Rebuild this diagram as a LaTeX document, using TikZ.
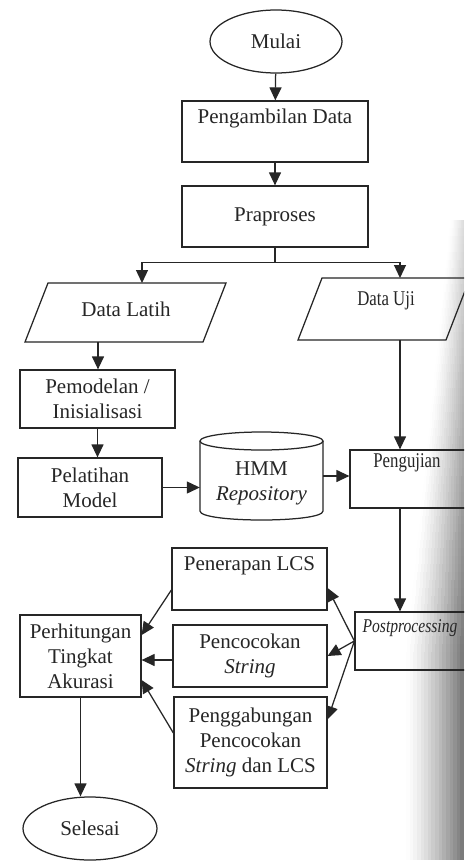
\documentclass[tikz,border=0pt]{standalone}
\usepackage{fontspec}
\setmainfont{Liberation Serif}
\newfontfamily\narrowserif[FakeStretch=0.8]{Liberation Serif}
\usetikzlibrary{shapes.geometric,arrows.meta,calc}

\begin{document}
\begin{tikzpicture}[x=1pt,y=-1pt,
  ink/.style={draw=black!85, line width=1.25pt},
  txt/.style={font=\fontsize{21}{25}\selectfont, text=black!85, align=center},
  narrow/.style={font=\narrowserif\fontsize{21}{24}\selectfont, text=black!85},
  box/.style={ink, rectangle, inner sep=0pt},
  oval/.style={ink, ellipse, inner sep=0pt},
  flow/.style={ink, -{Triangle[length=13pt,width=12pt]}},
  link/.style={ink}]

\useasboundingbox (0,0) rectangle (464,862);
\clip (0,0) rectangle (464,862);
\fill[white] (0,0) rectangle (464,862);

% soft shadow along the right page edge: a grid of small grey cells,
% darker towards the edge and further down the page
\foreach \y in {220,228,...,856} {
  \pgfmathsetmacro{\t}{min(1,(\y-220)/430)}
  \pgfmathsetmacro{\xs}{450-44*\t}
  \pgfmathsetmacro{\w}{(464-\xs)/16}
  \pgfmathsetmacro{\kmax}{14+40*\t}
  \foreach \i in {0,...,15} {
    \pgfmathsetmacro{\xa}{\xs+\i*\w}
    \pgfmathsetmacro{\k}{\kmax*((\i+0.5)/16)^1.3}
    \fill[black!\k] (\xa,\y) rectangle (\xa+\w+0.4,\y+8.4);
  }
}

% terminals
\node[oval, minimum width=132pt, minimum height=63pt, txt] (mulai) at (276,41.5) {Mulai};
\node[oval, minimum width=134pt, minimum height=63pt, txt] (sel) at (90,828.5) {Selesai};

% upper chain
\node[box, minimum width=186pt, minimum height=61pt] (ambil) at (275,131.5) {};
\node[txt] (t-ambil) at (275,118) {Pengambilan Data};
\node[box, minimum width=186pt, minimum height=61pt, txt] (prap) at (275,216.5) {Praproses};

% input data: two parallelograms with their labels
\draw[ink] (48,283) -- (226,283) -- (203,342) -- (25,342) -- cycle;
\node[txt] (latih) at (126,309) {Data Latih};
\coordinate (latih-in) at (142,283);
\coordinate (latih-out) at (98,342);
\draw[ink] (322,278) -- (470,278) -- (446,340) -- (298,340) -- cycle;
\node[narrow] (uji) at (386,301) {Data Uji};
\coordinate (uji-in) at (400,278);
\coordinate (uji-out) at (400,340);

% training branch
\node[box, minimum width=155pt, minimum height=58pt, txt] (pemod) at (97.5,399) {Pemodelan /\\Inisialisasi};
\node[box, minimum width=144pt, minimum height=59pt, txt] (pel) at (90,487.5) {Pelatihan\\Model};

% model repository
\node[minimum width=123pt, minimum height=88pt, inner sep=0pt] (hmm) at (261.5,476) {};
\draw[ink] (200,441) -- (200,511) .. controls (200,523) and (323,523) .. (323,511) -- (323,441);
\draw[ink] (261.5,441) ellipse [x radius=61.5, y radius=9];
\node[txt] (t-hmm) at (261.5,483) {HMM\\\textit{Repository}};

% testing branch
\node[box, minimum width=132pt, minimum height=58pt] (peng) at (416,479) {};
\node[narrow] (t-peng) at (407,463) {Pengujian};
\node[box, minimum width=127pt, minimum height=58pt] (post) at (418.5,641) {};
\node[narrow, font=\narrowserif\fontsize{19.5}{23}\selectfont\itshape] (t-post) at (410,628) {Postprocessing};

% matching methods
\node[box, minimum width=155pt, minimum height=62pt] (pen) at (249.5,579) {};
\node[txt] (t-pen) at (249.5,566) {Penerapan LCS};
\node[box, minimum width=154pt, minimum height=62pt, txt] (coc) at (250,656) {Pencocokan\\\textit{String}};
\node[box, minimum width=153pt, minimum height=91pt, txt] (gab) at (250.5,742.5) {Penggabungan\\Pencocokan\\\textit{String} dan LCS};

% accuracy
\node[box, minimum width=121pt, minimum height=82pt, txt] (perh) at (80.5,656) {Perhitungan\\Tingkat\\Akurasi};

% connectors
\draw[flow] (mulai) -- (ambil);
\draw[flow] (ambil) -- (prap);
\coordinate (split) at ($(prap.south)+(0,15)$);
\draw[link] (prap.south) -- (split);
\draw[flow] (split) -| (latih-in);
\draw[flow] (split) -| (uji-in);
\draw[flow] (latih-out) -- (latih-out |- pemod.north);
\draw[flow] (pemod.south) -- (pemod.south |- pel.north);
\draw[flow] (pel.east) -- (pel.east -| hmm.west);
\draw[flow] (hmm.east) -- (hmm.east -| peng.west);
\draw[flow] (uji-out) -- (uji-out |- peng.north);
\draw[flow] (uji-out |- peng.south) -- (uji-out |- post.north);
\draw[flow] (post.west) -- ($(pen.east)+(0,9)$);
\draw[flow] (post.west) -- (coc.east);
\draw[flow] (post.west) -- ($(gab.north east)+(0,23)$);
\draw[flow] ($(pen.west)+(0,11)$) -- ($(perh.east)+(0,-21)$);
\draw[flow] ($(coc.west)+(0,4)$) -- ($(perh.east)+(0,4)$);
\draw[flow] ($(gab.west)+(0,-9.5)$) -- ($(perh.east)+(0,24)$);
\draw[flow] (perh.south) -- (perh.south |- sel.north);
\end{tikzpicture}
\end{document}
